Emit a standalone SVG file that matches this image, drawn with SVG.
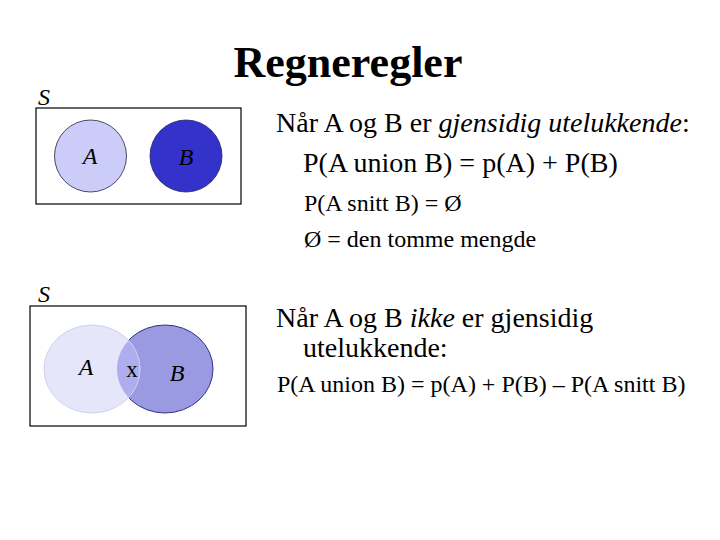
<svg xmlns="http://www.w3.org/2000/svg" width="720" height="540" viewBox="0 0 720 540">
<style>
.it{font-style:italic}
.box{fill:#fff;stroke:#000;stroke-width:1.2}
.lbl{font-size:24px;font-style:italic;text-anchor:middle}
.t28{font-size:28px}
.t24{font-size:24px}
</style>
<defs>
<clipPath id="clipB"><ellipse cx="165" cy="369" rx="48" ry="44"/></clipPath>
</defs>
<rect width="720" height="540" fill="#fff"/>
<g font-family="'Liberation Serif', 'Times New Roman', serif" fill="#000">
<text x="348" y="77" font-size="44" font-weight="bold" text-anchor="middle">Regneregler</text>

<g id="diagram1">
<text x="44" y="105" class="it" font-size="24" text-anchor="middle">S</text>
<rect class="box" x="36" y="108" width="205" height="96"/>
<g id="A1"><circle cx="90.5" cy="156" r="36" fill="#ccccf8" stroke="#222244" stroke-width="0.8"/><text class="lbl" x="90" y="164">A</text></g>
<g id="B1"><circle cx="186" cy="156" r="36" fill="#3333cc" stroke="#222266" stroke-width="0.8"/><text class="lbl" x="186" y="165">B</text></g>
</g>

<g id="diagram2">
<text x="44" y="302" class="it" font-size="24" text-anchor="middle">S</text>
<rect class="box" x="30" y="306" width="216" height="120"/>
<g id="B2"><ellipse cx="165" cy="369" rx="48" ry="44" fill="#9a9ae2" stroke="#333388" stroke-width="1"/></g>
<g id="A2"><ellipse cx="92" cy="369" rx="48" ry="44" fill="#e6e6fa" stroke="#d0d0ee" stroke-width="1"/>
<ellipse cx="92" cy="369" rx="48" ry="44" fill="#aeaeee" stroke="#c8c8f0" stroke-width="1" clip-path="url(#clipB)"/>
<text class="lbl" x="86" y="375">A</text></g>
<text x="132" y="377" font-size="23" text-anchor="middle">x</text>
<text class="lbl" x="177" y="381">B</text>
</g>

<g id="text1">
<text class="t28" x="276" y="132">Når A og B er <tspan class="it">gjensidig utelukkende</tspan>:</text>
<text class="t28" x="303" y="172">P(A union B) = p(A) + P(B)</text>
<text class="t24" x="304" y="211">P(A snitt B) = Ø</text>
<text class="t24" x="304" y="247">Ø = den tomme mengde</text>
</g>
<g id="text2">
<text class="t28" x="276" y="327">Når A og B <tspan class="it">ikke</tspan> er gjensidig</text>
<text class="t28" x="303" y="357">utelukkende:</text>
<text class="t24" x="277" y="392">P(A union B) = p(A) + P(B) – P(A snitt B)</text>
</g>
</g>
<g id="connectors"/>
</svg>
